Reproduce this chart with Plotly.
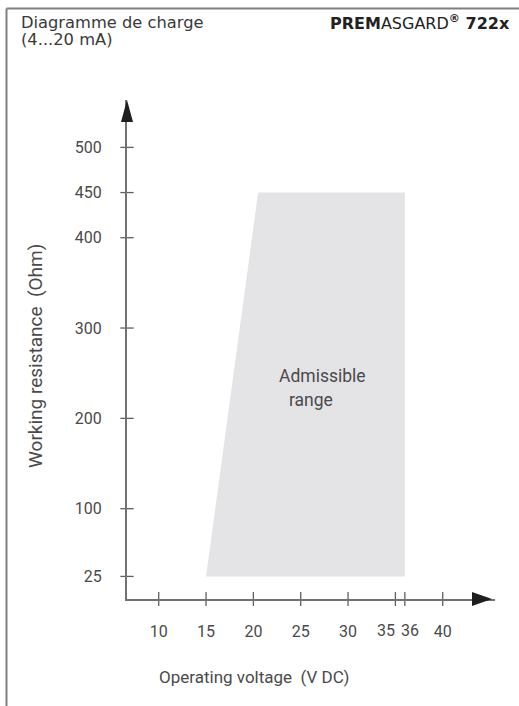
import plotly.graph_objects as go

# ---- data ----
region_voltage = [15, 36, 36, 20.5]
region_resistance = [25, 25, 450, 450]
x_tick_values = [10, 15, 20, 25, 30, 35, 36, 40]
x_tick_labels = ["10", "15", "20", "25", "30", "35", "36", "40"]
y_tick_values = [25, 100, 200, 300, 400, 450, 500]
y_tick_labels = ["25", "100", "200", "300", "400", "450", "500"]
# labels that sit beside their tick because they are so close together
shifted_labels = {35: -9, 36: 5}

# ---- layout geometry ----
W, H = 519, 706
ML, MR, MT, MB = 127, 24, 100, 107
PW, PH = W - ML - MR, H - MT - MB
X_RANGE = [6.65, 6.65 + PW / 9.467]
Y_RANGE = [0, PH / 0.9032]


def px_x(p):
    return (p - ML) / PW


def px_y(p):
    return (H - MB - p) / PH


FONT = "Roboto, Liberation Sans, sans-serif"
WIDE = "DejaVu Sans, Verdana, sans-serif"
TEXT = "#4a4a4a"
AXIS = "#727272"

fig = go.Figure()

# admissible region
fig.add_trace(go.Scatter(
    x=region_voltage + [region_voltage[0]],
    y=region_resistance + [region_resistance[0]],
    mode="lines", fill="toself", fillcolor="#e4e4e6",
    line=dict(width=0, color="#e4e4e6"), hoverinfo="skip", showlegend=False,
))

# tick marks crossing the axes
fig.add_trace(go.Scatter(
    x=[X_RANGE[0]] * len(y_tick_values), y=y_tick_values, mode="markers",
    marker=dict(symbol="line-ew", size=9.5, line=dict(width=1.3, color="#606060")),
    cliponaxis=False, hoverinfo="skip", showlegend=False,
))
fig.add_trace(go.Scatter(
    x=x_tick_values, y=[Y_RANGE[0]] * len(x_tick_values), mode="markers",
    marker=dict(symbol="line-ns", size=10, line=dict(width=1.3, color="#606060")),
    cliponaxis=False, hoverinfo="skip", showlegend=False,
))

plain = [(v, t) for v, t in zip(x_tick_values, x_tick_labels) if v not in shifted_labels]
fig.update_xaxes(
    range=X_RANGE, showline=True, linecolor=AXIS, linewidth=2, showgrid=False,
    zeroline=False, ticks="", tickvals=[v for v, _ in plain], ticktext=[t for _, t in plain],
    tickangle=0, automargin=False,
    tickfont=dict(family=FONT, size=16, color=TEXT), ticklabelstandoff=17,
)
fig.update_yaxes(
    range=Y_RANGE, showline=True, linecolor=AXIS, linewidth=2, showgrid=False,
    zeroline=False, ticks="", tickvals=y_tick_values, ticktext=y_tick_labels,
    automargin=False,
    tickfont=dict(family=FONT, size=16, color=TEXT), ticklabelstandoff=20,
)

shapes = [
    # frame
    dict(type="line", xref="paper", yref="paper", x0=px_x(6.5), x1=px_x(6.5),
         y0=px_y(8.5), y1=px_y(H + 2), line=dict(color="#808080", width=2)),
    dict(type="line", xref="paper", yref="paper", x0=px_x(6.5), x1=px_x(W + 2),
         y0=px_y(8.5), y1=px_y(8.5), line=dict(color="#808080", width=2)),
    # arrowheads
    dict(type="path", xref="paper", yref="paper", xsizemode="pixel", ysizemode="pixel",
         xanchor=0, yanchor=1,
         path="M 0 0 L -6 -22 L 6 -22 Z", fillcolor="#1e1e1e", line=dict(width=0)),
    dict(type="path", xref="paper", yref="paper", xsizemode="pixel", ysizemode="pixel",
         xanchor=px_x(492), yanchor=0,
         path="M 0 0 L -20 7 L -20 -7 Z", fillcolor="#1e1e1e", line=dict(width=0)),
]

annotations = [
    dict(text="Diagramme de charge", x=px_x(19), y=px_y(22.5), xanchor="left", yanchor="middle",
         font=dict(family=WIDE, size=16.3, color="#3a3a3a")),
    dict(text="(4...20 mA)", x=px_x(19), y=px_y(39.5), xanchor="left", yanchor="middle",
         font=dict(family=WIDE, size=16.3, color="#3a3a3a")),
    dict(text="<b>PREM</b>ASGARD<b><sup>®</sup> 722x</b>", x=px_x(512), y=px_y(23),
         xanchor="right", yanchor="middle",
         font=dict(family=WIDE, size=16, color="#222222")),
    dict(text="Working resistance  (Ohm)", x=px_x(35), y=px_y(356), textangle=-90,
         xanchor="center", yanchor="middle", font=dict(family=FONT, size=19, color=TEXT)),
    dict(text="Operating voltage  (V DC)", x=px_x(254), y=px_y(677),
         xanchor="center", yanchor="middle", font=dict(family=FONT, size=17, color=TEXT)),
    dict(text="Admissible", x=px_x(322), y=px_y(376), xanchor="center", yanchor="middle",
         font=dict(family=FONT, size=17.5, color=TEXT)),
    dict(text="range", x=px_x(311), y=px_y(400), xanchor="center", yanchor="middle",
         font=dict(family=FONT, size=17.5, color=TEXT)),
]
for a in annotations:
    a.update(xref="paper", yref="paper", showarrow=False)

# the two crowded tick labels, offset sideways from their ticks
for v, t in zip(x_tick_values, x_tick_labels):
    if v in shifted_labels:
        annotations.append(dict(
            text=t, x=v, xref="x", y=px_y(630), yref="paper", xshift=shifted_labels[v],
            xanchor="center", yanchor="middle", showarrow=False,
            font=dict(family=FONT, size=16, color=TEXT)))

fig.update_layout(
    width=W, height=H, margin=dict(l=ML, r=MR, t=MT, b=MB),
    paper_bgcolor="white", plot_bgcolor="white",
    shapes=shapes, annotations=annotations, showlegend=False,
)

fig.write_html("out.html", config={"displayModeBar": False},
               post_script="document.body.style.margin='0';")
